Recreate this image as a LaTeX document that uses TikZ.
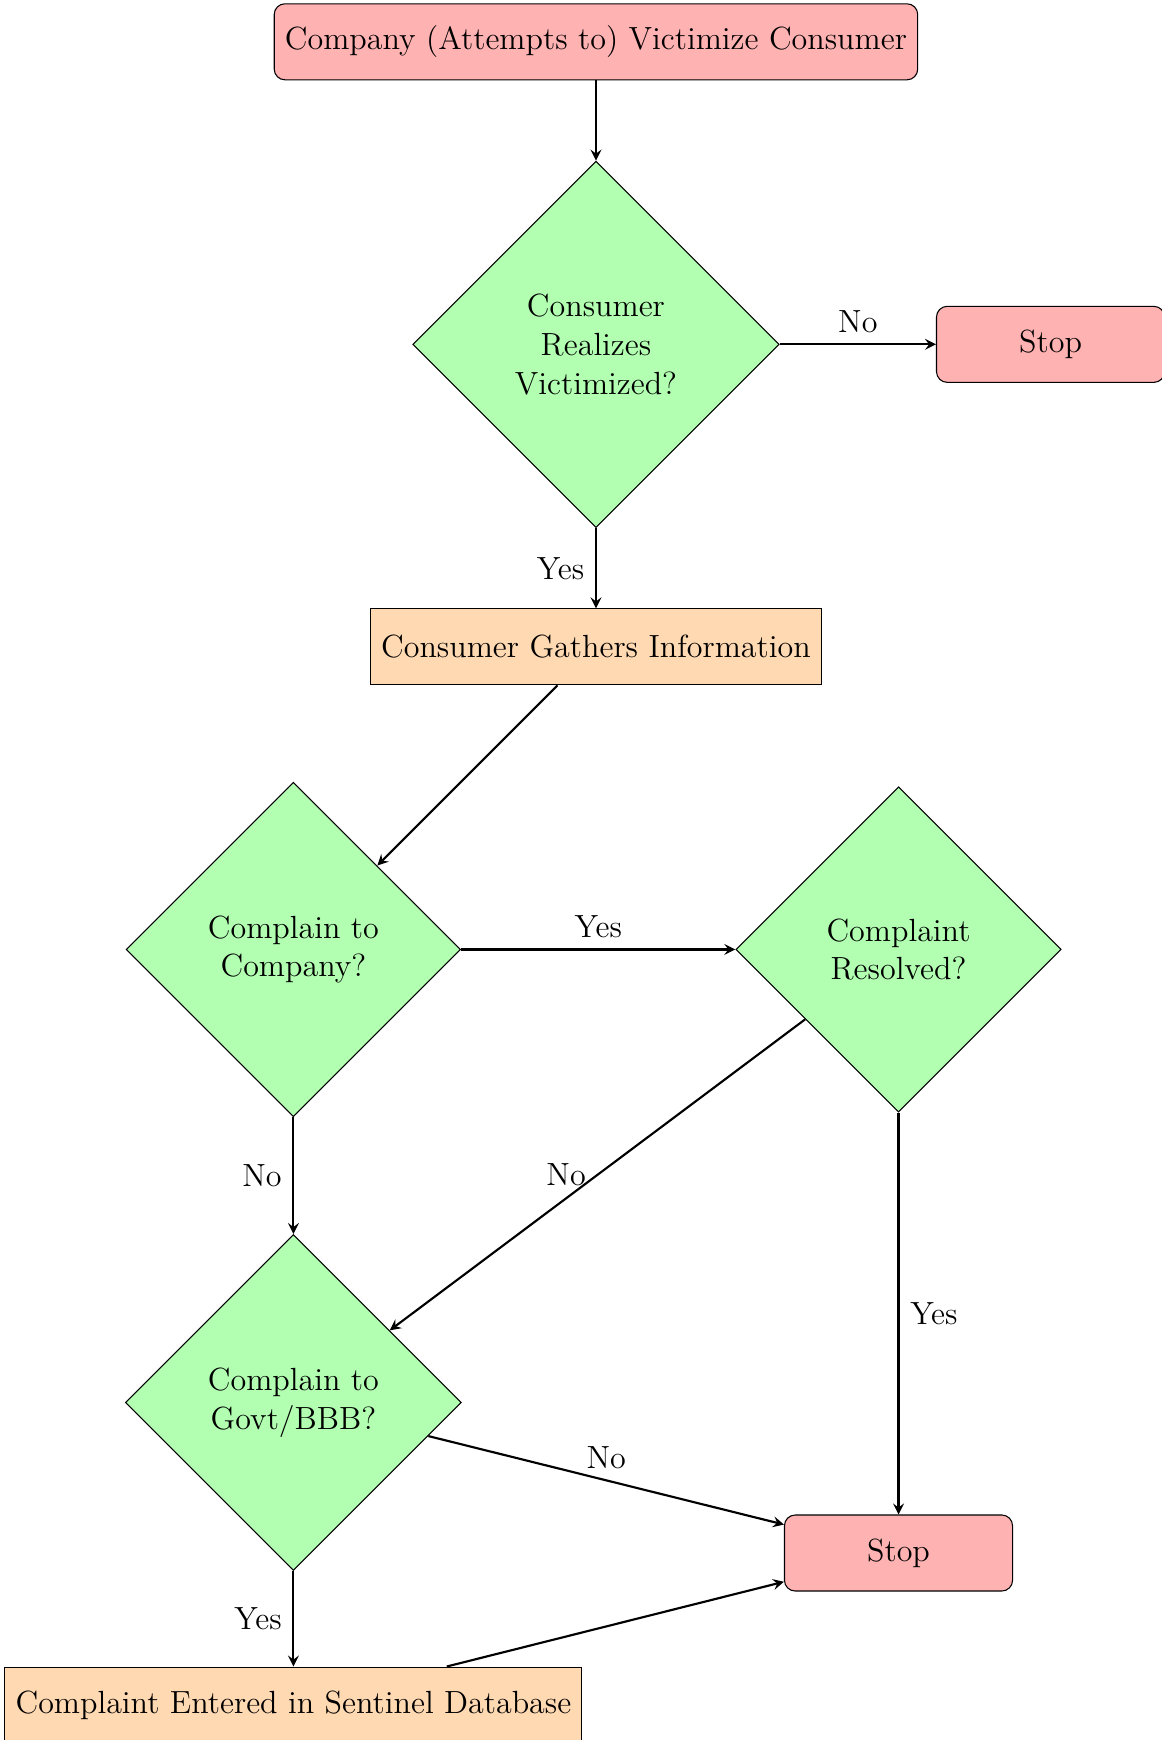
\documentclass[tikz,border=0pt,12pt]{standalone}
\usetikzlibrary{shapes.geometric}
\usetikzlibrary{arrows}

\tikzset{
  startstop/.style={rectangle, rounded corners, minimum width=3cm, minimum height=1cm, text centered, draw=black, fill=red!30},
  process/.style={rectangle, minimum width=3cm, minimum height=1cm, text centered, draw=black, fill=orange!30},
  decision/.style={diamond, aspect=1, align=center, draw=black, fill=green!30},
  arrow/.style={thick, ->, >=stealth}
}

\begin{document}
\begin{tikzpicture}
      \useasboundingbox (0, 0) rectangle (15.28, -22.89);

      \node[startstop] (start) at (7.84, -0.55) {Company (Attempts to) Victimize Consumer};
      \node[decision, minimum size=4.82cm] (realize) at (7.84, -4.53) {Consumer\\Realizes\\Victimized?};
      \node[startstop] (stop1) at (13.82, -4.53) {Stop};
      \node[process] (gather) at (7.84, -8.51) {Consumer Gathers Information};
      \node[decision, minimum size=4.4cm] (company) at (3.86, -12.49) {Complain to\\Company?};
      \node[decision, minimum size=4.28cm] (resolved) at (11.82, -12.49) {Complaint\\Resolved?};
      \node[decision, minimum size=4.42cm] (govt) at (3.86, -18.45) {Complain to\\Govt/BBB?};
      \node[startstop] (stop2) at (11.82, -20.43) {Stop};
      \node[process] (sentinel) at (3.86, -22.43) {Complaint Entered in Sentinel Database};

      \draw[arrow] (start) -- (realize);
      \draw[arrow] (realize) -- node[above] {No} (stop1);
      \draw[arrow] (realize) -- node[left] {Yes} (gather);
      \draw[arrow] (gather) -- (company);
      \draw[arrow] (company) -- node[above] {Yes} (resolved);
      \draw[arrow] (company) -- node[left] {No} (govt);
      \draw[arrow] (resolved) -- node[left] {No} (govt);
      \draw[arrow] (resolved) -- node[right] {Yes} (stop2);
      \draw[arrow] (govt) -- node[above] {No} (stop2);
      \draw[arrow] (govt) -- node[left] {Yes} (sentinel);
      \draw[arrow] (sentinel) -- (stop2);
\end{tikzpicture}
\end{document}
